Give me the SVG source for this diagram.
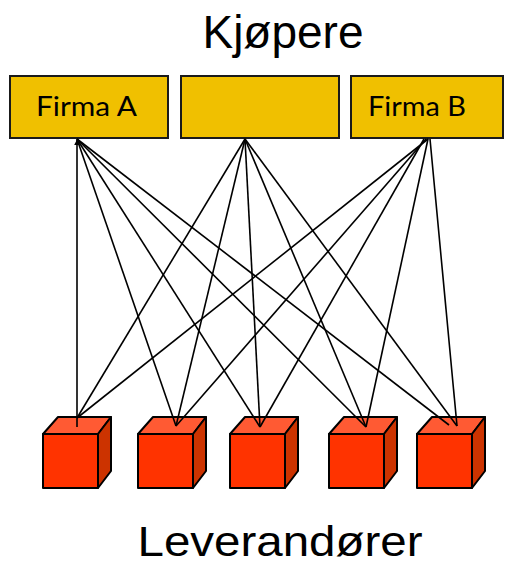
<svg xmlns="http://www.w3.org/2000/svg" width="507" height="567" viewBox="0 0 507 567">
<style>
.box{fill:#F0C000;stroke:#1a1a1a;stroke-width:2}
.lbl{font-family:Lato,"Liberation Sans",sans-serif;font-size:27px;fill:#000}
.title{font-family:"Liberation Sans",Arial,sans-serif;fill:#000;text-anchor:middle}
.front{fill:#FF3300;stroke:#000;stroke-width:2;stroke-linejoin:round}
.top{fill:#FF5A33;stroke:#000;stroke-width:2;stroke-linejoin:round}
.side{fill:#CC3300;stroke:#000;stroke-width:2;stroke-linejoin:round}
.conn line{stroke:#000;stroke-width:1.6}
</style>
<defs>
<marker id="arr" viewBox="0 0 10 10" refX="9" refY="5" markerWidth="6" markerHeight="6" orient="auto-start-reverse" markerUnits="userSpaceOnUse">
<path d="M0,0 L10,5 L0,10 z" fill="#000"/>
</marker>
<g id="cube">
<polygon class="front" points="0,17 55,17 55,71 0,71"/>
<polygon class="top" points="0,17 15,0 68,0 55,17"/>
<polygon class="side" points="55,17 68,0 68,54 55,71"/>
</g>
</defs>
<text class="title" x="283" y="48" font-size="46">Kjøpere</text>
<text class="title" x="280" y="556" font-size="43" textLength="285" lengthAdjust="spacingAndGlyphs">Leverandører</text>
<g id="firmaA"><rect class="box" x="10" y="76" width="158" height="62"/><text class="lbl" x="36" y="116" textLength="101" lengthAdjust="spacingAndGlyphs">Firma A</text></g>
<g id="firmaMid"><rect class="box" x="181" y="76" width="158" height="62"/></g>
<g id="firmaB"><rect class="box" x="351" y="76" width="152" height="62"/><text class="lbl" x="368" y="116" textLength="98" lengthAdjust="spacingAndGlyphs">Firma B</text></g>
<g id="lev1"><use href="#cube" x="43" y="417"/></g>
<g id="lev2"><use href="#cube" x="138" y="417"/></g>
<g id="lev3"><use href="#cube" x="230" y="417"/></g>
<g id="lev4"><use href="#cube" x="329" y="417"/></g>
<g id="lev5"><use href="#cube" x="417" y="417"/></g>
<g class="conn">
<line x1="77" y1="427" x2="77" y2="140" marker-end="url(#arr)"/>
<line x1="77" y1="418" x2="245" y2="139"/>
<line x1="77" y1="418" x2="428" y2="139"/>
<line x1="176" y1="426" x2="77" y2="139"/>
<line x1="176" y1="426" x2="245" y2="139"/>
<line x1="176" y1="426" x2="426" y2="139"/>
<line x1="260" y1="427" x2="77" y2="139"/>
<line x1="260" y1="427" x2="245" y2="139"/>
<line x1="260" y1="427" x2="424" y2="139"/>
<line x1="366" y1="427" x2="77" y2="139"/>
<line x1="366" y1="427" x2="245" y2="139"/>
<line x1="366" y1="427" x2="428" y2="139"/>
<line x1="449" y1="425" x2="77" y2="139"/>
<line x1="457" y1="426" x2="245" y2="139"/>
<line x1="457" y1="426" x2="430" y2="139"/>
</g>
</svg>
